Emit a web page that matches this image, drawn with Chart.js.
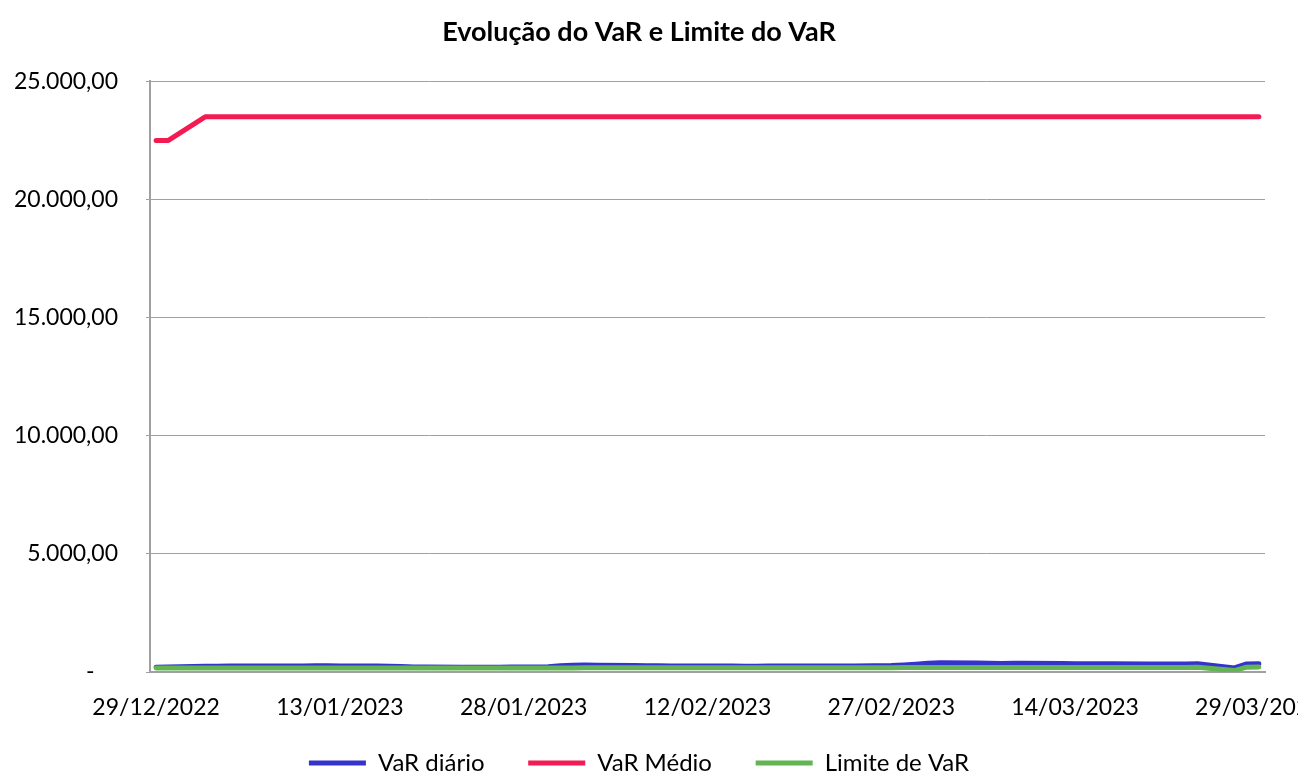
<!DOCTYPE html>
<html><head><meta charset="utf-8">
<script src="https://cdn.jsdelivr.net/npm/chart.js@4"></script>
<style>html,body{margin:0;padding:0;background:#fff;overflow:hidden}#wrap{position:relative;width:1298px;height:773px}</style>
</head><body><div id="wrap"><canvas id="c"></canvas></div>
<script>
const title = 'Evolução do VaR e Limite do VaR';
const seriesNames = ['VaR diário', 'VaR Médio', 'Limite de VaR'];
const dates = [
'29/12/2022','30/12/2022',
'02/01/2023','03/01/2023','04/01/2023','05/01/2023','06/01/2023',
'09/01/2023','10/01/2023','11/01/2023','12/01/2023','13/01/2023',
'16/01/2023','17/01/2023','18/01/2023','19/01/2023','20/01/2023',
'23/01/2023','24/01/2023','25/01/2023','26/01/2023','27/01/2023',
'30/01/2023','31/01/2023','01/02/2023','02/02/2023','03/02/2023',
'06/02/2023','07/02/2023','08/02/2023','09/02/2023','10/02/2023',
'13/02/2023','14/02/2023','15/02/2023','16/02/2023','17/02/2023',
'22/02/2023','23/02/2023','24/02/2023',
'27/02/2023','28/02/2023','01/03/2023','02/03/2023','03/03/2023',
'06/03/2023','07/03/2023','08/03/2023','09/03/2023','10/03/2023',
'13/03/2023','14/03/2023','15/03/2023','16/03/2023','17/03/2023',
'20/03/2023','21/03/2023','22/03/2023','23/03/2023','24/03/2023',
'27/03/2023','28/03/2023','29/03/2023'];
const varDiario = [
200,210,
240,245,250,250,255,
255,255,260,260,255,
250,245,230,215,210,
205,205,205,205,210,
220,260,290,300,290,
270,265,260,255,255,
250,250,245,245,250,
255,255,255,
275,300,330,370,390,
385,375,365,370,375,
355,350,345,345,345,
340,340,340,340,345,
170,340,345];
const varMedio = [
22500,22500,
23500,23500,23500,23500,23500,
23500,23500,23500,23500,23500,
23500,23500,23500,23500,23500,
23500,23500,23500,23500,23500,
23500,23500,23500,23500,23500,
23500,23500,23500,23500,23500,
23500,23500,23500,23500,23500,
23500,23500,23500,
23500,23500,23500,23500,23500,
23500,23500,23500,23500,23500,
23500,23500,23500,23500,23500,
23500,23500,23500,23500,23500,
23500,23500,23500];
const limiteVar = [
165,168,
170,172,172,172,172,
172,172,172,172,172,
172,172,172,172,172,
172,172,172,172,172,
172,172,172,175,175,
175,175,175,175,175,
175,175,175,175,175,
180,180,180,
185,190,195,195,195,
195,195,195,195,195,
195,195,195,195,195,
195,195,195,195,200,
60,205,210];
const xTickDays = [0,15,30,45,60,75,90];
const yTicks = [0,5000,10000,15000,20000,25000];

const DAY = 86400000;
function parseD(s){const p=s.split('/');return Date.UTC(+p[2],+p[1]-1,+p[0]);}
const base = parseD(dates[0]);
const xs = dates.map(d => Math.round((parseD(d)-base)/DAY));
function pts(vals){return vals.map((v,i)=>({x:xs[i],y:v}));}
function fmtDate(v){const d=new Date(base+v*DAY);const p=n=>String(n).padStart(2,'0');return p(d.getUTCDate())+'/'+p(d.getUTCMonth()+1)+'/'+d.getUTCFullYear();}
function fmtNum(v){if(v===0)return '-    ';const s=Math.round(v).toString().replace(/\B(?=(\d{3})+(?!\d))/g,'.');return s+',00';}

const colors = ['#3434CC','#F41A52','#63B553'];
const FONT = 'Lato';
const tickFont = {family: FONT, size: 23};
const gridColor = '#a0a0a0';
const legendGap = '     ';

new Chart(document.getElementById('c'), {
  type: 'line',
  data: {
    datasets: [
      {label: seriesNames[0], data: pts(varDiario), borderColor: colors[0], backgroundColor: colors[0], order: 2},
      {label: seriesNames[1], data: pts(varMedio), borderColor: colors[1], backgroundColor: colors[1], order: 1},
      {label: seriesNames[2], data: pts(limiteVar), borderColor: colors[2], backgroundColor: colors[2], order: 0}
    ]
  },
  options: {
    responsive: true,
    maintainAspectRatio: false,
    animation: false,
    elements: {
      line: {borderWidth: 5, tension: 0, borderCapStyle: 'round', borderJoinStyle: 'round'},
      point: {radius: 0, hoverRadius: 0}
    },
    layout: {padding: {top: 0, left: 13, right: 33, bottom: -12}},
    plugins: {
      tooltip: {enabled: false},
      title: {
        display: true, text: title, color: '#000',
        font: {family: FONT, size: 27, weight: 'bold'},
        padding: {top: 16, bottom: 33}
      },
      legend: {
        position: 'bottom',
        labels: {
          boxWidth: 57, boxHeight: 5, padding: 13, color: '#000',
          font: {family: FONT, size: 24},
          generateLabels: (chart) => chart.data.datasets.map((ds, i, arr) => ({
            text: ds.label + (i < arr.length - 1 ? legendGap : ''),
            fillStyle: ds.borderColor, strokeStyle: ds.borderColor,
            lineWidth: 0, hidden: false, datasetIndex: i, fontColor: '#000'
          }))
        }
      }
    },
    scales: {
      x: {
        type: 'linear', min: -0.5, max: 90.5,
        afterBuildTicks: (s) => { s.ticks = xTickDays.map(v => ({value: v})); },
        afterFit: (s) => { s.paddingLeft = 0; s.paddingRight = 0; s.height = 66; },
        grid: {display: false, drawTicks: false},
        border: {display: true, color: gridColor, width: 2},
        ticks: {font: tickFont, color: '#000', padding: 22, maxRotation: 0, autoSkip: false,
          callback: (v) => fmtDate(v)}
      },
      y: {
        min: 0, max: 25000,
        afterBuildTicks: (s) => { s.ticks = yTicks.map(v => ({value: v})); },
        afterFit: (s) => { s.width = 137; },
        grid: {color: gridColor, lineWidth: 1, drawTicks: true, tickLength: 4},
        border: {display: true, color: gridColor, width: 2},
        ticks: {font: tickFont, color: '#000', padding: 28, callback: (v) => fmtNum(v)}
      }
    }
  }
});
</script>
</body></html>
